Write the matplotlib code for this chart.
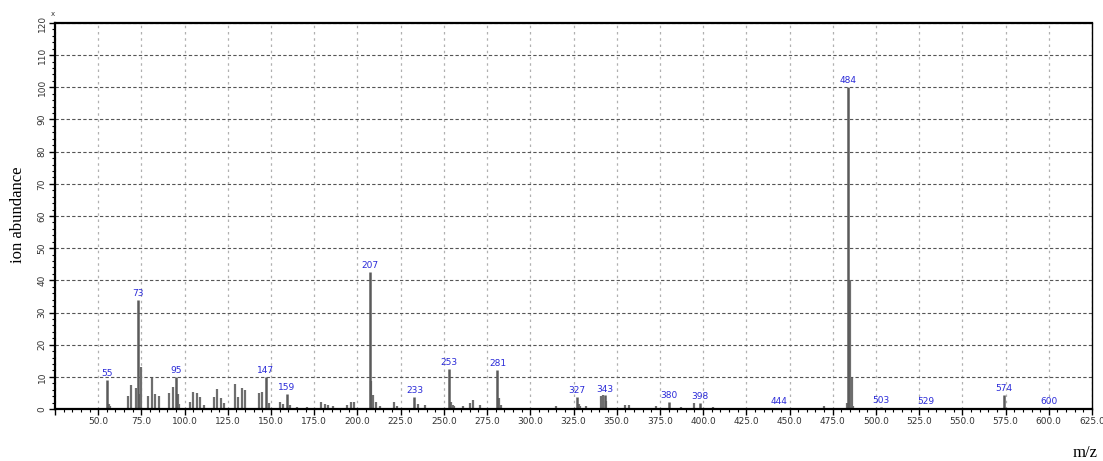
import numpy as np
import matplotlib
matplotlib.use("Agg")
import matplotlib.pyplot as plt
from matplotlib.ticker import MultipleLocator

# labelled peaks (m/z, relative abundance %)
label_mz = [55, 73, 95, 147, 159, 207, 233, 253, 281, 327, 343, 380, 398, 444,
            484, 503, 529, 574, 600]
label_ab = [9.0, 34.0, 10.0, 10.0, 4.8, 42.5, 3.6, 12.5, 12.2, 3.6, 4.2, 2.2,
            1.8, 0.3, 100.0, 0.5, 0.3, 4.3, 0.3]

# unlabelled fragment peaks
minor_mz = [56, 57, 67, 69, 72, 74, 75, 79, 81, 83, 85, 91, 93, 96, 97,
            103, 105, 107, 109, 111, 117, 119, 121, 123, 129, 131, 133, 135,
            143, 145, 149, 155, 157, 161, 165, 171, 179, 181, 183, 186, 194,
            196, 198, 208, 209, 211, 213, 221, 223, 235, 239, 254, 255, 256,
            261, 265, 267, 271, 282, 283, 315, 328, 329, 332, 341, 342, 344,
            355, 357, 373, 387, 395, 406, 419, 470, 483, 485, 486, 487]
minor_ab = [1.5, 0.8, 4.1, 7.5, 6.4, 4.7, 13.0, 4.1, 9.5, 4.7, 4.1, 4.9, 6.7,
            4.7, 1.5, 2.3, 5.4, 5.1, 3.8, 1.2, 3.8, 6.2, 3.3, 2.0, 7.8, 3.8,
            6.6, 5.9, 4.9, 5.4, 1.8, 2.3, 1.6, 1.2, 0.5, 0.7, 2.3, 1.5, 1.2,
            0.8, 1.2, 2.3, 2.3, 8.8, 4.4, 2.3, 1.0, 2.3, 0.8, 1.5, 1.2, 2.3,
            1.2, 0.8, 0.8, 2.0, 2.8, 1.2, 3.3, 1.2, 1.0, 1.5, 1.0, 0.8, 4.1,
            4.3, 2.5, 1.2, 1.2, 1.0, 0.5, 1.8, 0.5, 0.3, 0.8, 2.0, 40.0, 9.5,
            1.0]

fig = plt.figure(figsize=(11.03, 4.61), dpi=100)
ax = fig.add_axes([55 / 1103, 1 - 409 / 461, (1092 - 55) / 1103, (409 - 23) / 461])

ax.vlines(minor_mz, 0, minor_ab, color="#6e6e6e", linewidth=1.6)
ax.vlines(label_mz, 0, label_ab, color="#5a5a5a", linewidth=1.8)

for mz, ab in zip(label_mz, label_ab):
    ax.text(mz, ab + 0.6, str(mz), color="#2a2ad8", fontsize=6.5,
            ha="center", va="bottom",
            family=["Liberation Sans Narrow", "DejaVu Sans"])

ax.set_xlim(25, 625)
ax.set_ylim(0, 120)

ax.xaxis.set_major_locator(MultipleLocator(25))
ax.xaxis.set_minor_locator(MultipleLocator(5))
ax.yaxis.set_major_locator(MultipleLocator(10))
ax.yaxis.set_minor_locator(MultipleLocator(2))

xt = np.arange(25, 626, 25)
ax.set_xticks(xt)
ax.set_xticklabels(["" if v == 25 else f"{v:.1f}" for v in xt],
                   fontsize=6.5, color="#333333",
                   family=["Liberation Sans Narrow", "DejaVu Sans"])
yt = np.arange(0, 121, 10)
ax.set_yticks(yt)
ax.set_yticklabels([str(v) for v in yt], fontsize=6.5, color="#333333",
                   rotation=90, va="center",
                   family=["Liberation Sans Narrow", "DejaVu Sans"])

ax.tick_params(axis="both", which="major", length=4, width=1.0, direction="out",
               pad=2)
ax.tick_params(axis="both", which="minor", length=2.5, width=0.8, direction="out")

ax.grid(axis="y", which="major", linestyle=(0, (3, 2)), color="#555555",
        linewidth=0.8)
ax.grid(axis="x", which="major", linestyle=(0, (2, 3)), color="#b0b0b0",
        linewidth=0.9)
ax.set_axisbelow(True)

for side in ["left", "bottom", "top"]:
    ax.spines[side].set_linewidth(1.6)
ax.spines["right"].set_linewidth(1.0)

fig.text(18 / 1103, 1 - 215 / 461, "ion abundance", rotation=90,
         fontsize=12, family="Liberation Serif", ha="center", va="center")
fig.text(1085 / 1103, 1 - 453 / 461, "m/z", fontsize=12,
         family="Liberation Serif", ha="center", va="center")
fig.text(53 / 1103, 1 - 14 / 461, "x", fontsize=5, color="#333333",
         ha="center", va="center")

fig.savefig("out.png", dpi=100)
